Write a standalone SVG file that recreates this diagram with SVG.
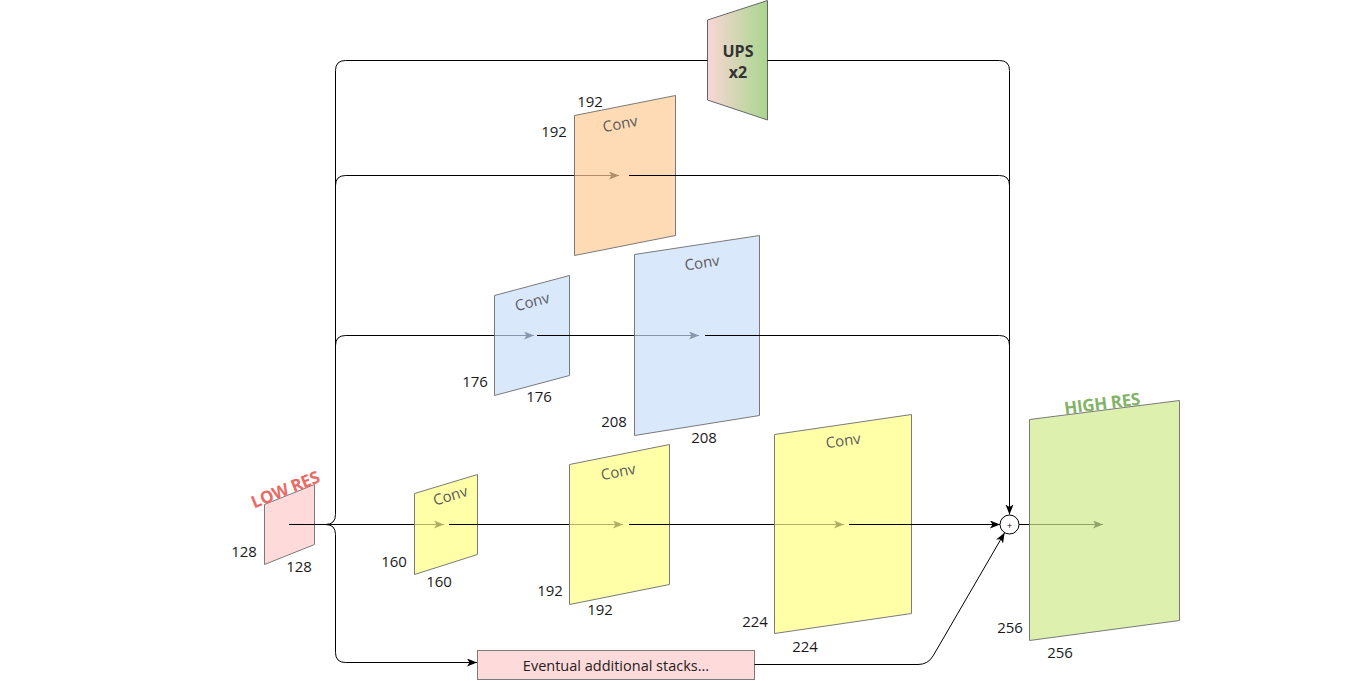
<svg xmlns="http://www.w3.org/2000/svg" width="1350" height="681" viewBox="0 0 1350 681">
<defs>
<linearGradient id="upsGrad" x1="0" y1="0" x2="1" y2="0">
<stop offset="0" stop-color="#fad6d6"/>
<stop offset="1" stop-color="#a9d68e"/>
</linearGradient>
<marker id="arrK" markerUnits="userSpaceOnUse" markerWidth="11" markerHeight="9" viewBox="0 0 11 9" refX="10" refY="4" orient="auto"><path d="M0,0 L10,4 L0,8 L2.5,4 z" fill="#000"/></marker>
<marker id="arrY" markerUnits="userSpaceOnUse" markerWidth="11" markerHeight="9" viewBox="0 0 11 9" refX="10" refY="4" orient="auto"><path d="M0,0 L10,4 L0,8 L2.5,4 z" fill="#b0b060"/></marker>
<marker id="arrB" markerUnits="userSpaceOnUse" markerWidth="11" markerHeight="9" viewBox="0 0 11 9" refX="10" refY="4" orient="auto"><path d="M0,0 L10,4 L0,8 L2.5,4 z" fill="#8797ad"/></marker>
<marker id="arrO" markerUnits="userSpaceOnUse" markerWidth="11" markerHeight="9" viewBox="0 0 11 9" refX="10" refY="4" orient="auto"><path d="M0,0 L10,4 L0,8 L2.5,4 z" fill="#b08c6c"/></marker>
<marker id="arrG" markerUnits="userSpaceOnUse" markerWidth="11" markerHeight="9" viewBox="0 0 11 9" refX="10" refY="4" orient="auto"><path d="M0,0 L10,4 L0,8 L2.5,4 z" fill="#8fa466"/></marker>
</defs>
<style>
.shape{stroke:#7a7a7a;stroke-width:1}
.yellow{fill:#ffffa8}
.blue{fill:#dae8fc}
.orange{fill:#ffdbb5}
.pink{fill:#ffdada}
.green{fill:#ddf0ae}
.num{font-family:"Open Sans","DejaVu Sans",sans-serif;font-size:15px;fill:#1a1a1a;text-anchor:middle;dominant-baseline:central}
.conv{font-family:"Open Sans","DejaVu Sans",sans-serif;font-size:15px;fill:#5a5a5a;text-anchor:middle;dominant-baseline:central}
.label{font-family:"Open Sans","DejaVu Sans",sans-serif;font-size:14.5px;fill:#222;text-anchor:middle;dominant-baseline:central}
.title{font-family:"Open Sans","DejaVu Sans",sans-serif;font-size:17px;font-weight:bold;text-anchor:middle;dominant-baseline:central;letter-spacing:-0.3px}
.ups{font-family:"Open Sans","DejaVu Sans",sans-serif;font-size:16px;font-weight:bold;text-anchor:middle;dominant-baseline:central;fill:#333}
.edge{fill:none;stroke:#000;stroke-width:1}
.ty{fill:none;stroke:#b0b060;stroke-width:1}
.tb{fill:none;stroke:#8797ad;stroke-width:1}
.to{fill:none;stroke:#b08c6c;stroke-width:1}
.tg{fill:none;stroke:#8fa466;stroke-width:1}
</style>
<rect width="1350" height="681" fill="#fff"/>

<g id="low-res">
<polygon class="shape pink" points="264.5,504.5 314.5,484.5 314.5,544.5 264.5,564.5"/>
<text class="title" x="285" y="489" style="fill:#ea6b66" transform="rotate(-21.8 285 489)">LOW RES</text>
<text class="num" x="244" y="551">128</text>
<text class="num" x="299" y="566">128</text>
</g>

<g id="conv-160">
<polygon class="shape yellow" points="414.5,493.5 477.5,474.5 477.5,554.5 414.5,574.5"/>
<text class="conv" x="450" y="495" transform="rotate(-16.8 450 495)">Conv</text>
<text class="num" x="394" y="561">160</text>
<text class="num" x="439" y="581">160</text>
</g>

<g id="conv-192">
<polygon class="shape yellow" points="569.5,464.5 669.5,444.5 669.5,584.5 569.5,604.5"/>
<text class="conv" x="618" y="471" transform="rotate(-11.3 618 471)">Conv</text>
<text class="num" x="550" y="590">192</text>
<text class="num" x="600" y="609">192</text>
</g>

<g id="conv-224">
<polygon class="shape yellow" points="774.5,434.5 911.5,414.5 911.5,613.5 774.5,633.5"/>
<text class="conv" x="843" y="440" transform="rotate(-7.9 843 440)">Conv</text>
<text class="num" x="755" y="621">224</text>
<text class="num" x="805" y="646">224</text>
</g>

<g id="conv-176">
<polygon class="shape blue" points="494.5,295.5 569.5,275.5 569.5,375.5 494.5,395.5"/>
<text class="conv" x="532" y="301" transform="rotate(-14.6 532 301)">Conv</text>
<text class="num" x="475" y="381">176</text>
<text class="num" x="539" y="396">176</text>
</g>

<g id="conv-208">
<polygon class="shape blue" points="634.5,254.5 759.5,235.5 759.5,415.5 634.5,435.5"/>
<text class="conv" x="702" y="262" transform="rotate(-8.6 702 262)">Conv</text>
<text class="num" x="614" y="421">208</text>
<text class="num" x="704" y="437">208</text>
</g>

<g id="conv-orange-192">
<polygon class="shape orange" points="574.5,115.5 675.5,95.5 675.5,235.5 574.5,255.5"/>
<text class="conv" x="620" y="123" transform="rotate(-11 620 123)">Conv</text>
<text class="num" x="590" y="101">192</text>
<text class="num" x="554" y="131">192</text>
</g>

<g id="ups">
<polygon points="707.5,20 767.5,0.5 767.5,120 707.5,100" fill="url(#upsGrad)" stroke="#666" stroke-width="1"/>
<text class="ups" x="738" y="51">UPS</text>
<text class="ups" x="738" y="72">x2</text>
</g>

<g id="high-res">
<polygon class="shape green" points="1029.5,419.5 1179.5,400.5 1179.5,620.5 1029.5,640.5"/>
<text class="title" x="1102" y="403" style="fill:#82b366" transform="rotate(-7.2 1102 403)">HIGH RES</text>
<text class="num" x="1010" y="627">256</text>
<text class="num" x="1060" y="652">256</text>
</g>

<g id="extra-stacks">
<rect x="477.5" y="650.5" width="277" height="29" fill="#ffdada" stroke="#7a7a7a"/>
<text class="label" x="616" y="665.5">Eventual additional stacks...</text>
</g>

<g id="connectors">
<path class="edge" d="M289,524.5 H414.5"/>
<path class="ty" d="M414.5,524.5 H444" marker-end="url(#arrY)"/>
<path class="edge" d="M325.5,524.5 Q335.5,524.5 335.5,514.5 V70.5 Q335.5,60.5 345.5,60.5 H707.5"/>
<path class="edge" d="M335.5,185.5 Q335.5,175.5 345.5,175.5 H574.5"/>
<path class="to" d="M574.5,175.5 H619" marker-end="url(#arrO)"/>
<path class="edge" d="M335.5,345.5 Q335.5,335.5 345.5,335.5 H494.5"/>
<path class="tb" d="M494.5,335.5 H534" marker-end="url(#arrB)"/>
<path class="edge" d="M325.5,524.5 Q335.5,524.5 335.5,534.5 V652.5 Q335.5,662.5 345.5,662.5 H477" marker-end="url(#arrK)"/>
<path class="edge" d="M449,524.5 H569.5"/>
<path class="ty" d="M569.5,524.5 H623" marker-end="url(#arrY)"/>
<path class="edge" d="M629,524.5 H774.5"/>
<path class="ty" d="M774.5,524.5 H844" marker-end="url(#arrY)"/>
<path class="edge" d="M849,524.5 H1000" marker-end="url(#arrK)"/>
<path class="edge" d="M537,335.5 H634.5"/>
<path class="tb" d="M634.5,335.5 H699" marker-end="url(#arrB)"/>
<path class="edge" d="M705,335.5 H999.5 Q1009.5,335.5 1009.5,345.5"/>
<path class="edge" d="M629,175.5 H999.5 Q1009.5,175.5 1009.5,185.5"/>
<path class="edge" d="M767.5,60.5 H999.5 Q1009.5,60.5 1009.5,70.5 V514.5" marker-end="url(#arrK)"/>
<path class="edge" d="M754.5,664.5 H918 Q928,664.5 933.1,655.9 L1004.6,532.8" marker-end="url(#arrK)"/>
<path class="edge" d="M1019,524.5 H1029.5"/>
<path class="tg" d="M1029.5,524.5 H1103" marker-end="url(#arrG)"/>
</g>

<g id="plus">
<circle cx="1009.5" cy="524.5" r="9.5" fill="#fff" stroke="#000" stroke-width="1"/>
<text x="1009.5" y="525" font-family="'Open Sans','DejaVu Sans',sans-serif" font-size="9" text-anchor="middle" dominant-baseline="central" fill="#000">+</text>
</g>
</svg>
